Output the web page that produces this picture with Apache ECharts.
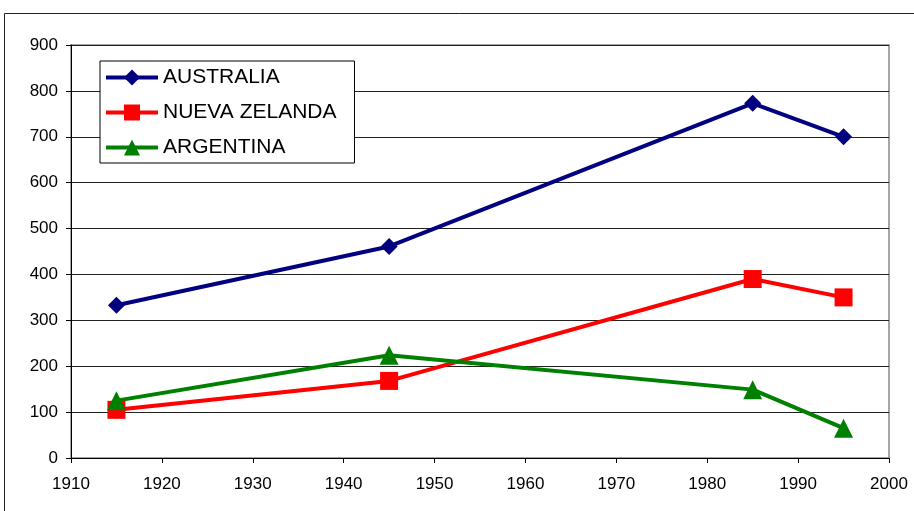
<!DOCTYPE html>
<html>
<head>
<meta charset="utf-8">
<script src="https://cdn.jsdelivr.net/npm/echarts@6/dist/echarts.min.js"></script>
<style>
html,body{margin:0;padding:0;background:#fff;}
#c{width:914px;height:511px;}
</style>
</head>
<body>
<div id="c"></div>
<script>
const years = [1915, 1945, 1985, 1995];
const australia = [333, 461, 773, 700];
const nuevaZelanda = [105, 168, 390, 350];
const argentina = [125, 224, 149, 65];
const seriesNames = ['AUSTRALIA', 'NUEVA ZELANDA', 'ARGENTINA'];

const chart = echarts.init(document.getElementById('c'), null, {renderer: 'canvas'});
const pair = (ys) => years.map((x, i) => [x, ys[i]]);
const font = 'Arial, "Liberation Sans", sans-serif';

chart.setOption({
  animation: false,
  backgroundColor: '#fff',
  graphic: [{
    type: 'rect',
    shape: {x: 4.5, y: 13.5, width: 930, height: 520},
    style: {fill: 'none', stroke: '#222', lineWidth: 1},
    silent: true
  }],
  grid: {left: 71, right: 25, top: 45, bottom: 53, show: true, borderColor: '#888', borderWidth: 1.5, backgroundColor: '#fff'},
  legend: {
    orient: 'vertical',
    left: 100, top: 61,
    padding: [6, 18, 5, 4],
    backgroundColor: '#fff',
    borderColor: '#000', borderWidth: 1,
    itemWidth: 52, itemHeight: 20, itemGap: 14,
    lineStyle: {width: 4},
    textStyle: {fontFamily: font, fontSize: 21, color: '#000', lineHeight: 20},
    data: seriesNames
  },
  xAxis: {
    type: 'value', min: 1910, max: 2000, interval: 10,
    axisLine: {show: true, lineStyle: {color: '#000', width: 1}},
    axisTick: {show: true, length: 5, lineStyle: {color: '#000'}},
    axisLabel: {fontFamily: font, fontSize: 17, color: '#000', margin: 18, formatter: (v) => String(v)},
    splitLine: {show: false}
  },
  yAxis: {
    type: 'value', min: 0, max: 900, interval: 100,
    axisLine: {show: true, lineStyle: {color: '#000', width: 1}},
    axisTick: {show: true, length: 5, lineStyle: {color: '#000'}},
    axisLabel: {fontFamily: font, fontSize: 17, color: '#000', margin: 13},
    splitLine: {show: true, lineStyle: {color: '#222', width: 1}}
  },
  series: [
    {name: seriesNames[0], type: 'line', data: pair(australia), symbol: 'diamond', symbolSize: 17,
     lineStyle: {color: '#000080', width: 4}, itemStyle: {color: '#000080'}},
    {name: seriesNames[1], type: 'line', data: pair(nuevaZelanda), symbol: 'rect', symbolSize: 18,
     lineStyle: {color: '#ff0000', width: 4}, itemStyle: {color: '#ff0000'}},
    {name: seriesNames[2], type: 'line', data: pair(argentina), symbol: 'triangle', symbolSize: 19,
     lineStyle: {color: '#008000', width: 4}, itemStyle: {color: '#008000'}}
  ]
});
</script>
</body>
</html>
